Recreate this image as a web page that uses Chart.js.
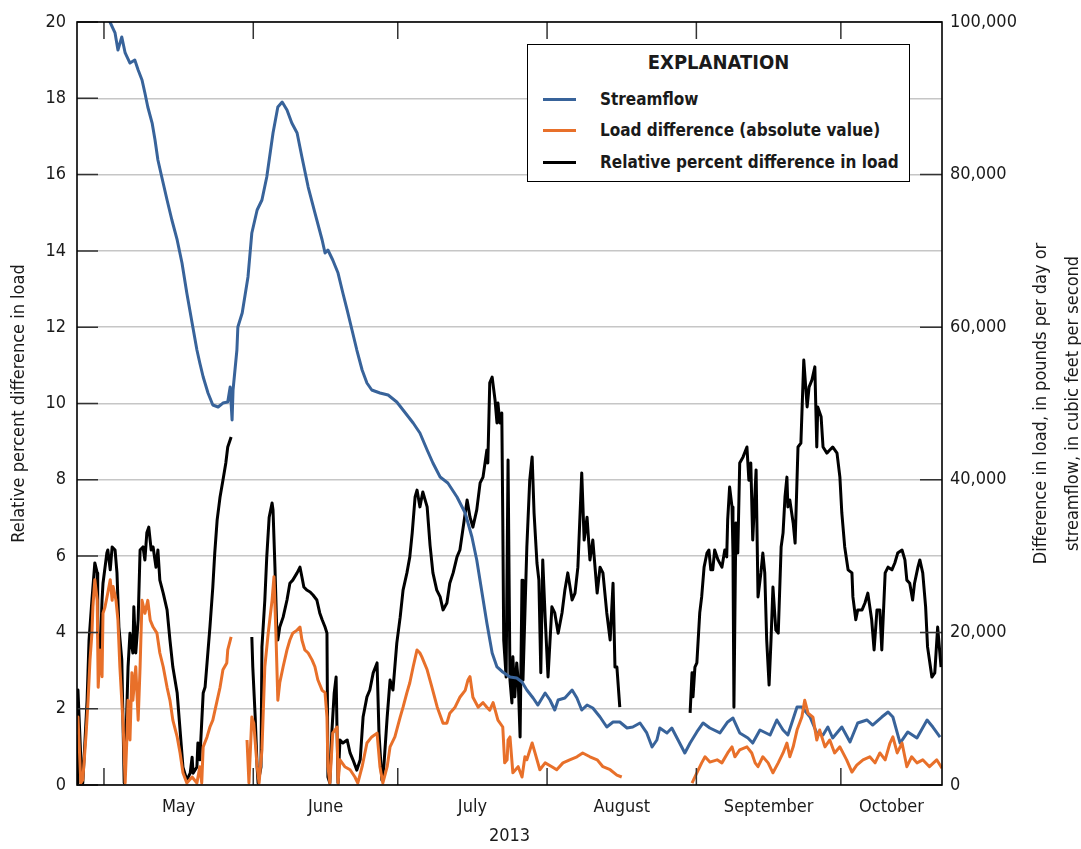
<!DOCTYPE html>
<html>
<head>
<meta charset="utf-8">
<script src="https://cdn.jsdelivr.net/npm/chart.js@4.4.1/dist/chart.umd.min.js"></script>
<style>
  html, body { margin: 0; padding: 0; background: #fff; }
  #wrap { position: relative; width: 1081px; height: 849px; }
  #legend {
    position: absolute; left: 527px; top: 44px; width: 381px; height: 136px;
    border: 1.5px solid #000; background: #fff; color: #1a1a1a;
    font-family: 'DejaVu Sans Condensed', 'DejaVu Sans', sans-serif; font-stretch: condensed;
    font-weight: bold;
  }
  #legend .title { position: absolute; left: 0; right: 0; top: 5px; text-align: center; font-size: 20px; }
  #legend .row { position: absolute; left: 15px; font-size: 17px; line-height: 20px; }
  #legend .row i { position: absolute; left: 0; top: 9px; width: 33px; height: 0; border-top: 3px solid; }
  #legend .row span { position: absolute; left: 57px; white-space: nowrap; }
</style>
</head>
<body>
<div id="wrap">
  <canvas id="chart" width="1081" height="849"></canvas>
  <div id="legend">
    <div class="title">EXPLANATION</div>
    <div class="row" style="top:44px"><i style="border-color:#38639a"></i><span>Streamflow</span></div>
    <div class="row" style="top:75px"><i style="border-color:#e8702a"></i><span>Load difference (absolute value)</span></div>
    <div class="row" style="top:107px"><i style="border-color:#000"></i><span>Relative percent difference in load</span></div>
  </div>
</div>
<script>
// x values are day of year 2013 (Jan 1 = 0)
const monthStarts = [120, 151, 181, 212, 243, 273];
const monthNames = ['May', 'June', 'July', 'August', 'September', 'October'];
const monthLabelDays = [135.5, 166, 196.5, 227.5, 258, 283.5];
const pctTicks = [0, 2, 4, 6, 8, 10, 12, 14, 16, 18, 20];
const rightTicks = [0, 20000, 40000, 60000, 80000, 100000];

// Relative percent difference in load [day, percent]
const relDiff = [
  [114.4,0.05],[114.6,2.49],[115.2,0.66],[115.6,0.05],[116.5,2.23],[116.9,3.80],[117.5,4.85],[118.1,5.82],[118.6,5.56],[118.7,3.98],
  [119.2,3.46],[119.6,4.85],[119.8,5.29],[120.6,6.08],[120.8,6.16],[121.3,5.64],[121.7,6.24],[122.3,6.16],[122.7,5.56],[123.1,4.14],
  [123.7,3.28],[124.2,0.05],[124.6,1.36],[125.0,3.09],[125.4,3.98],[126.0,3.46],[126.2,4.67],[126.6,3.46],[127.1,4.33],[127.5,6.16],
  [128.1,6.24],[128.5,5.90],[128.9,6.61],[129.3,6.76],[129.8,6.16],[130.2,6.24],[130.8,5.71],[131.2,6.16],[131.6,5.37],[132.3,5.03],
  [133.1,4.59],[133.7,3.80],[134.3,3.09],[135.2,2.41],[135.8,1.44],[136.4,0.47],[137.2,0.13],[137.9,0.31],[138.3,0.73],[138.5,0.31],
  [139.3,0.47],[139.5,1.10],[139.9,0.66],[140.6,2.41],[141.0,2.57],[141.4,3.20],[142.0,4.14],[142.6,5.19],[143.0,6.08],[143.5,6.95],
  [144.1,7.55],[144.7,7.99],[145.3,8.44],[145.7,8.86],[146.4,9.12],[148.5,null],
  [150.7,3.88],[150.9,3.09],[151.4,1.78],[151.8,0.47],[152.0,0.05],[152.6,0.47],[152.8,3.62],[153.4,4.85],[153.8,5.98],[154.3,7.02],
  [154.9,7.39],[155.1,7.21],[155.5,5.71],[155.9,3.98],[156.1,3.80],[156.5,4.14],[157.2,4.40],[158.0,4.85],[158.6,5.29],[159.2,5.37],
  [160.1,5.56],[160.7,5.71],[161.1,5.45],[161.5,5.19],[162.1,5.11],[162.8,5.06],[163.4,4.98],[164.2,4.85],[164.8,4.51],[165.3,4.33],
  [165.9,4.14],[166.3,3.98],[166.5,0.21],[166.9,0.05],[167.3,1.36],[167.8,2.41],[168.2,2.83],[168.4,1.36],[168.6,0.05],[169.0,1.18],
  [169.6,1.10],[170.5,1.18],[171.1,0.84],[171.7,0.66],[172.5,0.39],[173.2,0.66],[173.8,1.78],[174.6,2.31],[175.2,2.49],[175.9,2.94],
  [176.7,3.20],[177.1,1.36],[177.7,0.13],[178.1,0.47],[178.8,1.78],[179.4,2.75],[180.0,2.49],[180.8,3.72],[181.5,4.40],[182.1,5.11],
  [182.9,5.56],[183.5,5.98],[184.0,6.61],[184.6,7.55],[185.0,7.73],[185.6,7.29],[186.2,7.68],[187.1,7.29],[187.7,6.29],[188.3,5.56],
  [189.1,5.11],[189.8,4.93],[190.4,4.59],[191.2,4.77],[191.8,5.29],[192.5,5.56],[193.3,5.98],[193.9,6.16],[194.5,6.68],[195.4,7.47],
  [196.0,7.02],[196.6,6.76],[197.4,7.21],[198.1,7.92],[198.7,8.07],[199.5,8.78],[199.7,8.44],[200.1,10.54],[200.6,10.69],[201.2,10.09],
  [201.6,9.49],[201.8,10.01],[202.2,9.49],[202.6,9.75],[202.8,7.02],[203.0,3.80],[203.5,2.83],[203.9,8.52],[204.3,2.75],[204.7,2.15],
  [204.9,3.36],[205.3,2.31],[205.7,3.20],[206.0,2.75],[206.4,1.26],[206.8,5.37],[207.0,2.75],[207.8,6.24],[208.4,7.99],[208.9,8.60],
  [209.3,7.13],[209.9,5.82],[210.3,5.37],[210.7,2.94],[211.1,5.90],[211.6,4.40],[212.2,2.83],[213.0,4.67],[213.6,4.51],[214.3,3.98],
  [215.1,4.51],[215.7,5.11],[216.3,5.56],[217.2,4.85],[217.8,5.03],[218.4,5.71],[219.2,8.18],[219.7,6.42],[220.3,7.02],[220.9,5.90],
  [221.5,6.42],[222.4,5.03],[223.0,5.71],[223.6,5.56],[224.4,4.51],[225.1,3.80],[225.7,5.29],[226.1,3.09],[226.5,3.09],[227.1,2.04],
  [234,null],
  [241.7,1.89],[242.1,2.94],[242.3,2.31],[242.7,3.09],[243.1,3.20],[243.7,4.51],[244.1,4.93],[244.6,5.71],[245.2,6.08],[245.6,6.16],
  [246.0,5.64],[246.4,5.64],[246.8,6.16],[247.5,5.90],[248.3,5.71],[248.9,6.16],[249.3,5.98],[249.5,6.95],[249.9,7.81],[250.4,7.29],
  [250.6,6.08],[250.8,2.04],[251.2,6.87],[251.6,6.08],[252.0,8.44],[252.7,8.60],[253.5,8.86],[253.9,7.99],[254.3,8.44],[254.7,6.42],
  [255.4,8.26],[255.8,4.93],[256.4,5.56],[256.8,6.08],[257.2,5.56],[257.6,3.80],[258.1,2.62],[258.5,3.80],[258.9,5.19],[259.5,4.06],
  [260.0,3.98],[260.6,6.24],[261.0,6.61],[261.4,7.55],[261.8,8.07],[262.0,7.29],[262.4,7.47],[263.1,6.87],[263.5,6.34],[264.1,8.86],
  [264.7,8.96],[265.3,11.14],[266.0,9.91],[266.4,10.43],[267.0,10.62],[267.6,10.96],[268.0,8.86],[268.2,9.91],[268.9,9.65],[269.3,8.86],
  [270.1,8.70],[270.7,8.78],[271.3,8.86],[272.2,8.70],[272.8,8.07],[273.2,7.13],[273.8,6.24],[274.5,5.64],[275.3,5.56],[275.5,4.93],
  [276.1,4.33],[276.5,4.59],[277.4,4.59],[278.0,4.77],[278.6,5.03],[279.4,4.33],[279.9,3.54],[280.5,4.59],[281.1,4.59],[281.5,3.54],
  [282.2,5.56],[282.8,5.71],[283.6,5.64],[284.2,5.82],[284.8,6.08],[285.7,6.16],[286.3,5.90],[286.7,5.37],[287.3,5.29],[287.9,4.85],
  [288.3,5.29],[289.0,5.71],[289.4,5.90],[290.0,5.56],[290.6,4.67],[291.0,3.62],[291.9,2.83],[292.5,2.94],[293.1,4.14],[293.8,3.09]
];

// Load difference (absolute value), pounds per day [day, value]
const loadDiff = [
  [114.4,6800],[114.6,8900],[115.2,260],[115.6,650],[116.3,6800],[116.7,11100],[117.1,16400],[117.5,19900],[117.7,23300],[118.1,26900],
  [118.6,24200],[118.8,12800],[119.2,17700],[119.6,14200],[119.8,22500],[120.2,23300],[120.8,25200],[121.3,26900],[121.7,24200],[121.9,26000],
  [122.5,24200],[122.9,21600],[123.3,15500],[124.0,7600],[124.4,260],[124.8,6800],[125.0,11100],[125.4,5900],[125.8,14700],[126.0,11100],
  [126.6,15500],[127.1,8500],[127.5,15500],[127.9,24200],[128.5,22500],[129.1,24200],[129.6,21600],[130.2,20700],[131.0,19900],[131.6,17300],
  [132.3,15500],[133.1,12800],[133.7,11100],[134.3,8500],[135.2,6300],[135.8,4200],[136.4,1600],[137.2,260],[138.3,1050],[139.3,260],
  [139.9,2400],[140.3,260],[140.6,5000],[141.4,6300],[142.0,7600],[142.6,8500],[143.5,11100],[144.1,12800],[144.7,15100],[145.5,16000],
  [145.7,17700],[146.4,19400],[148,null],
  [149.7,5900],[150.1,260],[150.7,8900],[151.1,8100],[151.8,2400],[152.2,260],[152.8,4600],[153.4,15500],[154.1,19900],[154.9,24200],
  [155.3,27300],[155.7,19900],[156.1,11100],[156.5,13400],[157.2,15500],[158.0,17700],[158.6,19000],[159.2,19900],[160.1,20300],[160.7,20700],
  [161.1,19000],[161.7,17700],[162.4,17300],[163.2,16400],[163.8,15500],[164.4,13800],[165.3,12400],[165.9,12100],[166.3,8900],[166.5,2400],
  [166.9,260],[167.5,6800],[168.4,7600],[168.6,260],[169.0,3300],[170.0,2400],[171.1,2000],[172.1,1050],[172.7,260],[173.6,2400],
  [174.6,5500],[175.6,6300],[176.7,6800],[177.3,2400],[177.9,260],[178.8,2400],[179.4,5000],[180.4,6300],[181.5,8900],[182.1,10200],
  [182.9,12100],[183.5,13400],[184.2,15500],[185.0,17700],[185.6,17300],[186.0,16800],[187.1,15100],[188.1,12800],[189.2,10200],[190.4,8100],
  [191.2,8100],[191.8,9400],[192.9,10200],[193.9,11500],[195.0,12400],[195.6,13800],[196.0,14200],[196.6,11500],[197.7,10200],[198.7,10800],
  [199.5,10200],[200.1,9800],[200.8,10800],[201.8,8500],[202.8,7600],[203.2,2900],[203.7,3300],[203.9,5900],[204.3,6300],[204.9,1600],
  [206.0,2400],[206.8,1050],[207.4,3700],[207.8,3300],[208.9,5500],[209.5,4200],[210.5,2000],[211.6,2900],[213.0,2400],[214.0,2000],
  [215.3,2900],[216.7,3300],[218.2,3700],[219.4,4200],[220.9,3700],[222.4,3300],[223.6,2400],[225.1,2000],[226.5,1300],[227.5,1050],
  [234,null],
  [242.1,260],[243.1,1600],[244.1,2900],[244.8,3700],[245.8,3000],[247.3,3300],[248.3,2900],[249.5,4200],[250.4,5000],[251.0,3700],
  [252.0,4600],[253.5,5000],[254.5,4200],[255.2,2900],[255.8,2400],[256.8,3700],[257.9,2900],[258.9,1600],[260.0,2900],[261.0,4200],
  [261.8,5500],[262.4,3700],[263.1,5000],[263.9,7200],[264.9,8900],[265.5,11100],[266.2,9400],[267.2,8900],[268.0,5900],[268.6,7200],
  [269.7,5000],[270.7,5900],[271.7,4200],[272.8,5000],[274.2,3300],[275.3,1700],[276.3,2600],[277.6,3300],[279.0,3700],[280.1,2900],
  [281.1,4200],[282.2,3300],[283.2,5500],[283.8,6300],[284.7,4200],[285.7,5500],[286.7,2400],[287.7,3700],[288.8,2900],[290.0,3300],
  [291.4,2400],[292.9,3300],[294.0,2200]
];

// Streamflow, cubic feet per second [day, value]
const streamflow = [
  [119.5,104500],[121.25,100000],[122.3,98560],[122.9,96330],[123.7,98030],[124.4,95940],[125.4,94620],[126.4,95020],[127.1,93710],[127.9,92400],
  [128.5,90690],[129.1,88860],[130.0,86760],[130.6,84530],[131.2,81910],[132.0,79690],[133.1,76670],[134.1,74050],[135.2,71430],[136.2,68410],
  [137.2,64480],[138.3,60550],[139.3,57010],[139.9,55310],[140.6,53470],[141.6,51380],[142.6,49800],[143.7,49540],[144.7,50060],[145.7,50200],
  [146.2,52160],[146.6,47840],[146.8,51770],[147.6,57010],[147.8,60030],[148.7,61860],[149.3,64220],[149.9,66580],[150.7,72350],[151.8,75360],
  [152.8,76670],[153.8,79690],[155.1,85450],[156.1,88860],[157.0,89510],[158.0,88470],[159.0,86760],[160.1,85450],[161.1,82310],[162.4,78370],
  [163.8,74970],[165.3,71430],[165.9,69720],[166.5,70120],[167.5,68810],[168.6,67100],[169.6,64480],[170.5,62250],[171.5,59630],[172.5,57010],
  [173.6,54390],[174.6,52690],[175.6,51770],[177.3,51380],[179.0,51110],[180.8,50200],[182.1,49150],[184.2,47440],[185.6,46130],[187.1,43910],
  [188.3,42200],[189.8,40370],[191.4,39580],[193.3,37750],[195.0,35650],[196.4,32500],[197.4,29490],[198.5,25160],[199.5,21230],[200.6,17300],
  [201.6,15470],[202.8,14810],[204.3,14150],[205.7,14020],[206.8,13500],[207.8,12450],[209.1,11400],[210.1,10480],[211.6,12060],[212.6,11140],
  [213.6,9830],[214.3,11140],[215.7,11400],[217.2,12450],[218.2,11400],[219.2,9830],[220.3,10480],[221.5,10090],[223.0,8910],[224.4,7600],
  [225.7,8260],[227.1,8260],[228.6,7470],[229.8,7600],[231.3,8130],[232.7,6820],[233.8,4980],[234.8,5900],[235.4,7470],[236.9,6820],
  [237.9,7470],[239.2,5900],[240.6,4190],[241.7,5500],[243.1,6950],[244.4,8130],[245.8,7470],[247.9,6820],[249.5,8260],[250.6,8780],
  [252.0,6820],[253.7,6160],[254.7,5500],[256.2,7210],[258.3,6550],[259.7,8520],[261.0,7210],[262.0,6550],[263.9,10220],[264.9,10220],
  [266.6,8910],[268.0,6820],[269.3,6550],[270.3,7600],[271.3,6160],[273.2,7600],[274.9,5640],[276.5,8130],[278.4,8520],[279.6,7860],
  [281.5,8910],[282.8,9570],[283.8,8910],[285.3,5500],[286.9,6950],[288.8,6160],[290.9,8520],[292.1,7600],[293.6,6290]
];

const FONT = "'DejaVu Sans Condensed', 'DejaVu Sans', sans-serif";
const TEXT = '#1a1a1a';
const toXY = arr => arr.map(p => ({ x: p[0], y: p[1] }));
const withCommas = v => String(v).replace(/\B(?=(\d{3})+(?!\d))/g, ',');

// inward tick marks and the plot frame
const frame = {
  id: 'frame',
  afterDatasetsDraw(chart) {
    const { ctx, chartArea: a, scales } = chart;
    ctx.save();
    ctx.strokeStyle = '#333';
    ctx.lineWidth = 1.5;
    ctx.beginPath();
    pctTicks.forEach(v => {
      const py = scales.y.getPixelForValue(v);
      ctx.moveTo(a.left, py); ctx.lineTo(a.left + 21, py);
    });
    rightTicks.forEach(v => {
      const py = scales.y1.getPixelForValue(v);
      ctx.moveTo(a.right - 22, py); ctx.lineTo(a.right, py);
    });
    monthStarts.forEach(d => {
      const px = scales.x.getPixelForValue(d);
      ctx.moveTo(px, a.bottom); ctx.lineTo(px, a.bottom - 17);
      ctx.moveTo(px, a.top); ctx.lineTo(px, a.top + 17);
    });
    ctx.stroke();
    ctx.strokeStyle = '#000';
    ctx.lineWidth = 1.6;
    ctx.strokeRect(a.left, a.top, a.right - a.left, a.bottom - a.top);
    ctx.restore();
  },
  afterDraw(chart) {
    // right axis title reads bottom to top like the left one
    const { ctx, chartArea: a } = chart;
    const cy = (a.top + a.bottom) / 2;
    ctx.save();
    ctx.fillStyle = TEXT;
    ctx.font = '18px ' + FONT;
    ctx.textAlign = 'center';
    ctx.textBaseline = 'middle';
    [['Difference in load, in pounds per day or', 1041], ['streamflow, in cubic feet per second', 1073]].forEach(([t, x]) => {
      ctx.save();
      ctx.translate(x, cy);
      ctx.rotate(-Math.PI / 2);
      ctx.fillText(t, 0, 0);
      ctx.restore();
    });
    ctx.restore();
  }
};

new Chart(document.getElementById('chart'), {
  type: 'line',
  data: {
    datasets: [
      { label: 'Streamflow', data: toXY(streamflow), yAxisID: 'y1', borderColor: '#38639a', borderWidth: 3, order: 2 },
      { label: 'Load difference (absolute value)', data: toXY(loadDiff), yAxisID: 'y1', borderColor: '#e8702a', borderWidth: 3, order: 1 },
      { label: 'Relative percent difference in load', data: toXY(relDiff), yAxisID: 'y', borderColor: '#000', borderWidth: 3, order: 3 }
    ]
  },
  options: {
    responsive: false,
    animation: false,
    spanGaps: false,
    elements: { point: { radius: 0 }, line: { tension: 0, borderJoinStyle: 'round' } },
    layout: { padding: { top: 22, left: 0, right: 0, bottom: 0 } },
    plugins: { legend: { display: false }, tooltip: { enabled: false } },
    scales: {
      x: {
        type: 'linear', min: 114.4, max: 294,
        afterBuildTicks: s => { s.ticks = monthLabelDays.map(v => ({ value: v })); },
        afterFit: s => { s.height = 64; },
        grid: { display: false, drawTicks: false },
        border: { display: false },
        ticks: {
          autoSkip: false, maxRotation: 0, padding: 12, color: TEXT,
          font: { family: FONT, size: 18 },
          callback: (v, i) => monthNames[i]
        },
        title: { display: true, text: '2013', color: TEXT, font: { family: FONT, size: 18 }, padding: { top: 0, bottom: 2 } }
      },
      y: {
        position: 'left', min: 0, max: 20,
        afterBuildTicks: s => { s.ticks = pctTicks.map(v => ({ value: v })); },
        afterFit: s => { s.width = 77; },
        grid: { color: '#c6c6c6', lineWidth: 1.5, drawTicks: false },
        border: { display: false },
        ticks: { padding: 11, color: TEXT, font: { family: FONT, size: 18 } },
        title: { display: true, text: 'Relative percent difference in load', color: TEXT, font: { family: FONT, size: 18 }, padding: { top: 9, bottom: 0 } }
      },
      y1: {
        position: 'right', min: 0, max: 100000,
        afterBuildTicks: s => { s.ticks = rightTicks.map(v => ({ value: v })); },
        afterFit: s => { s.width = 139; },
        grid: { display: false, drawOnChartArea: false, drawTicks: false },
        border: { display: false },
        ticks: { padding: 8, color: TEXT, font: { family: FONT, size: 18 }, callback: v => withCommas(v) }
      }
    }
  },
  plugins: [frame]
});
</script>
</body>
</html>
